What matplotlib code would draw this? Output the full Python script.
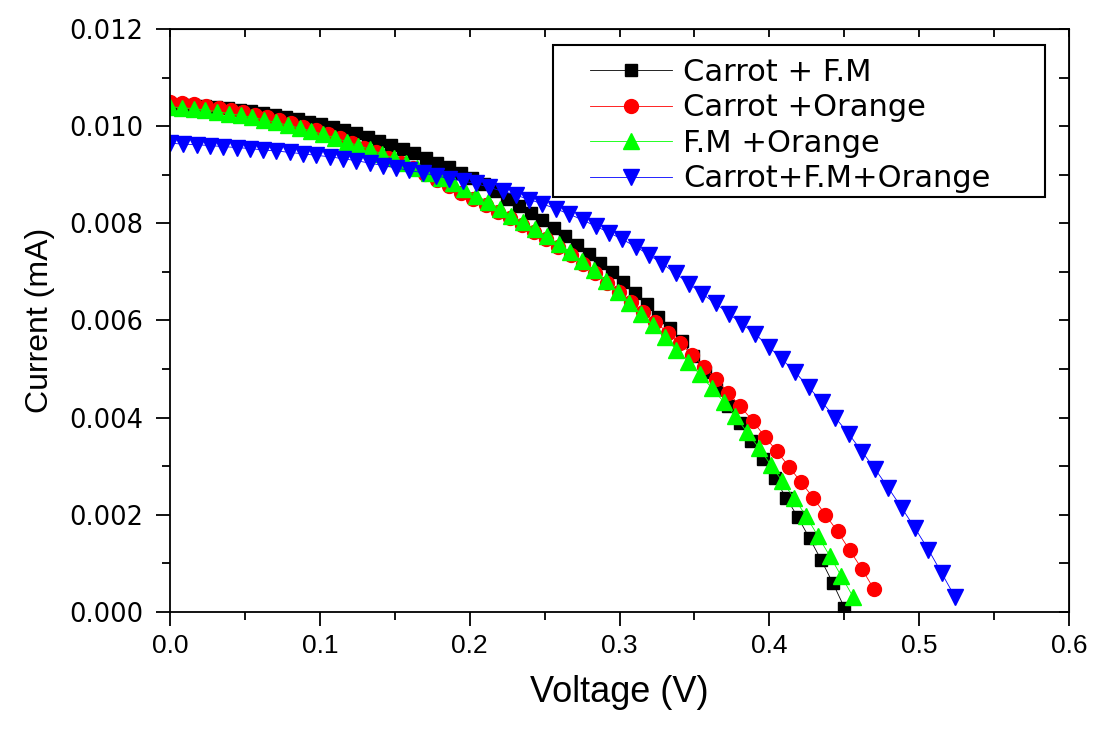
import matplotlib
matplotlib.use("Agg")
import matplotlib.pyplot as plt
from matplotlib.patches import Rectangle
from matplotlib.ticker import MultipleLocator, FormatStrFormatter

# Voltage (V) for each series
v_carrot_fm = [0.0000, 0.0078, 0.0155, 0.0233, 0.0310, 0.0388, 0.0466, 0.0543, 0.0621, 0.0698,
               0.0776, 0.0854, 0.0931, 0.1009, 0.1086, 0.1164, 0.1242, 0.1319, 0.1397, 0.1474,
               0.1552, 0.1630, 0.1707, 0.1785, 0.1862, 0.1940, 0.2018, 0.2095, 0.2173, 0.2250,
               0.2328, 0.2406, 0.2483, 0.2561, 0.2638, 0.2716, 0.2794, 0.2871, 0.2949, 0.3026,
               0.3104, 0.3182, 0.3259, 0.3337, 0.3414, 0.3492, 0.3570, 0.3647, 0.3725, 0.3802,
               0.3880, 0.3958, 0.4035, 0.4113, 0.4190, 0.4268, 0.4346, 0.4423, 0.4501]
i_carrot_fm = [0.01045, 0.01044, 0.01043, 0.01041, 0.01039, 0.01037, 0.01034, 0.01031, 0.01027, 0.01023,
               0.01019, 0.01014, 0.01009, 0.01004, 0.00998, 0.00992, 0.00985, 0.00978, 0.00970, 0.00962,
               0.00953, 0.00944, 0.00935, 0.00925, 0.00915, 0.00904, 0.00893, 0.00880, 0.00866, 0.00851,
               0.00836, 0.00821, 0.00806, 0.00790, 0.00773, 0.00755, 0.00737, 0.00719, 0.00700, 0.00680,
               0.00657, 0.00633, 0.00608, 0.00584, 0.00558, 0.00527, 0.00494, 0.00460, 0.00425, 0.00388,
               0.00352, 0.00314, 0.00275, 0.00235, 0.00195, 0.00152, 0.00107, 0.00060, 0.00009]

v_carrot_orange = [0.0000, 0.0081, 0.0162, 0.0243, 0.0324, 0.0405, 0.0486, 0.0567, 0.0648, 0.0729,
                   0.0810, 0.0891, 0.0972, 0.1053, 0.1134, 0.1215, 0.1296, 0.1377, 0.1458, 0.1539,
                   0.1620, 0.1701, 0.1782, 0.1863, 0.1944, 0.2025, 0.2106, 0.2187, 0.2268, 0.2349,
                   0.2430, 0.2511, 0.2592, 0.2673, 0.2754, 0.2835, 0.2916, 0.2997, 0.3078, 0.3159,
                   0.3240, 0.3321, 0.3402, 0.3483, 0.3564, 0.3645, 0.3726, 0.3807, 0.3888, 0.3969,
                   0.4050, 0.4131, 0.4212, 0.4293, 0.4374, 0.4455, 0.4536, 0.4617, 0.4698]
i_carrot_orange = [0.01050, 0.01048, 0.01045, 0.01042, 0.01038, 0.01034, 0.01029, 0.01024, 0.01018, 0.01012,
                   0.01006, 0.00999, 0.00992, 0.00984, 0.00976, 0.00966, 0.00956, 0.00946, 0.00935, 0.00924,
                   0.00913, 0.00901, 0.00889, 0.00877, 0.00863, 0.00850, 0.00837, 0.00824, 0.00810, 0.00796,
                   0.00782, 0.00767, 0.00751, 0.00734, 0.00716, 0.00697, 0.00678, 0.00658, 0.00638, 0.00618,
                   0.00597, 0.00575, 0.00553, 0.00530, 0.00505, 0.00479, 0.00451, 0.00423, 0.00394, 0.00361,
                   0.00331, 0.00299, 0.00267, 0.00235, 0.00200, 0.00166, 0.00127, 0.00089, 0.00047]

v_fm_orange = [0.0000, 0.0079, 0.0157, 0.0236, 0.0314, 0.0393, 0.0472, 0.0550, 0.0629, 0.0707,
               0.0786, 0.0865, 0.0943, 0.1022, 0.1100, 0.1179, 0.1258, 0.1336, 0.1415, 0.1493,
               0.1572, 0.1651, 0.1729, 0.1808, 0.1886, 0.1965, 0.2044, 0.2122, 0.2201, 0.2279,
               0.2358, 0.2437, 0.2515, 0.2594, 0.2672, 0.2751, 0.2830, 0.2908, 0.2987, 0.3065,
               0.3144, 0.3223, 0.3301, 0.3380, 0.3458, 0.3537, 0.3616, 0.3694, 0.3773, 0.3851,
               0.3930, 0.4009, 0.4087, 0.4166, 0.4244, 0.4323, 0.4402, 0.4480, 0.4559]
i_fm_orange = [0.01040, 0.01038, 0.01036, 0.01033, 0.01030, 0.01026, 0.01022, 0.01018, 0.01013, 0.01008,
               0.01002, 0.00996, 0.00990, 0.00983, 0.00976, 0.00968, 0.00960, 0.00952, 0.00943, 0.00934,
               0.00924, 0.00914, 0.00904, 0.00893, 0.00882, 0.00870, 0.00857, 0.00844, 0.00830, 0.00816,
               0.00802, 0.00788, 0.00773, 0.00757, 0.00740, 0.00722, 0.00703, 0.00681, 0.00659, 0.00636,
               0.00613, 0.00590, 0.00565, 0.00540, 0.00515, 0.00489, 0.00461, 0.00433, 0.00403, 0.00370,
               0.00338, 0.00303, 0.00269, 0.00234, 0.00198, 0.00157, 0.00116, 0.00074, 0.00031]

v_all = [0.0000, 0.0089, 0.0178, 0.0266, 0.0355, 0.0444, 0.0533, 0.0622, 0.0710, 0.0799,
         0.0888, 0.0977, 0.1066, 0.1154, 0.1243, 0.1332, 0.1421, 0.1510, 0.1598, 0.1687,
         0.1776, 0.1865, 0.1954, 0.2042, 0.2131, 0.2220, 0.2309, 0.2398, 0.2486, 0.2575,
         0.2664, 0.2753, 0.2842, 0.2930, 0.3019, 0.3108, 0.3197, 0.3286, 0.3374, 0.3463,
         0.3552, 0.3641, 0.3730, 0.3818, 0.3907, 0.3996, 0.4085, 0.4174, 0.4262, 0.4351,
         0.4440, 0.4529, 0.4618, 0.4706, 0.4795, 0.4884, 0.4973, 0.5062, 0.5150, 0.5239]
i_all = [0.00965, 0.00963, 0.00962, 0.00960, 0.00958, 0.00956, 0.00954, 0.00951, 0.00949, 0.00946,
         0.00943, 0.00940, 0.00937, 0.00933, 0.00929, 0.00924, 0.00919, 0.00914, 0.00909, 0.00904,
         0.00898, 0.00892, 0.00887, 0.00882, 0.00874, 0.00866, 0.00858, 0.00849, 0.00840, 0.00830,
         0.00819, 0.00807, 0.00794, 0.00781, 0.00767, 0.00752, 0.00735, 0.00717, 0.00697, 0.00676,
         0.00655, 0.00635, 0.00614, 0.00593, 0.00572, 0.00546, 0.00520, 0.00493, 0.00463, 0.00432,
         0.00400, 0.00367, 0.00330, 0.00294, 0.00255, 0.00214, 0.00172, 0.00128, 0.00080, 0.00031]

labels = ["Carrot + F.M", "Carrot +Orange", "F.M +Orange", "Carrot+F.M+Orange"]

fig = plt.figure(figsize=(10.96, 7.4), dpi=100)
ax = fig.add_axes([0.1551, 0.173, 0.8203, 0.7878])

ax.plot(v_carrot_fm, i_carrot_fm, color="black", lw=0.6, marker="s", ms=9,
        mec="black", mfc="black", label=labels[0])
ax.plot(v_carrot_orange, i_carrot_orange, color="red", lw=0.6, marker="o", ms=10,
        mec="red", mfc="red", label=labels[1])
ax.plot(v_fm_orange, i_fm_orange, color="#00ff00", lw=0.6, marker="^", ms=11,
        mec="#00ff00", mfc="#00ff00", label=labels[2])
ax.plot(v_all, i_all, color="blue", lw=0.6, marker="v", ms=11,
        mec="blue", mfc="blue", label=labels[3])

ax.set_xlim(0, 0.6)
ax.set_ylim(0, 0.012)
ax.xaxis.set_major_locator(MultipleLocator(0.1))
ax.xaxis.set_minor_locator(MultipleLocator(0.05))
ax.yaxis.set_major_locator(MultipleLocator(0.002))
ax.yaxis.set_minor_locator(MultipleLocator(0.001))
ax.xaxis.set_major_formatter(FormatStrFormatter("%.1f"))
ax.yaxis.set_major_formatter(FormatStrFormatter("%.3f"))

for s in ax.spines.values():
    s.set_linewidth(1.3)
ax.tick_params(which="major", direction="out", length=10, width=1.3)
ax.tick_params(which="minor", direction="out", length=6, width=1.3)
ax.tick_params(axis="y", labelsize=18.5, pad=9)
ax.tick_params(axis="x", labelsize=19, pad=6)
for t in ax.get_yticklabels():
    t.set_family("DejaVu Sans")
for t in ax.get_xticklabels():
    t.set_family("Liberation Sans")

# inward ticks on the opposite sides
right = ax.secondary_yaxis("right")
right.yaxis.set_major_locator(MultipleLocator(0.001))
right.tick_params(direction="in", length=7, width=1.3, labelright=False)
top = ax.secondary_xaxis("top")
top.xaxis.set_major_locator(MultipleLocator(0.05))
top.tick_params(direction="in", length=6, width=1.3, labeltop=False)

ax.set_xlabel("Voltage (V)", fontsize=26, family="Liberation Sans", labelpad=12)
ax.yaxis.set_label_coords(-0.128, 0.47)
ax.set_ylabel("Current (mA)", fontsize=23, family="Liberation Sans")

# legend box drawn separately so the padding matches
box = Rectangle((553 / 1096, 1 - 197 / 740), (1045 - 553) / 1096, (197 - 45) / 740,
                transform=fig.transFigure, facecolor="white", edgecolor="black",
                linewidth=1.5, zorder=4, clip_on=False)
ax.add_patch(box)

leg = ax.legend(loc="upper left", bbox_to_anchor=(590 / 1096, 1 - 58 / 740),
                bbox_transform=fig.transFigure, frameon=False, borderpad=0,
                borderaxespad=0, handlelength=2.68, handletextpad=0.36,
                labelspacing=0.21, prop={"family": "DejaVu Sans", "size": 22})
leg.set_zorder(6)

fig.savefig("out.png", dpi=100)
